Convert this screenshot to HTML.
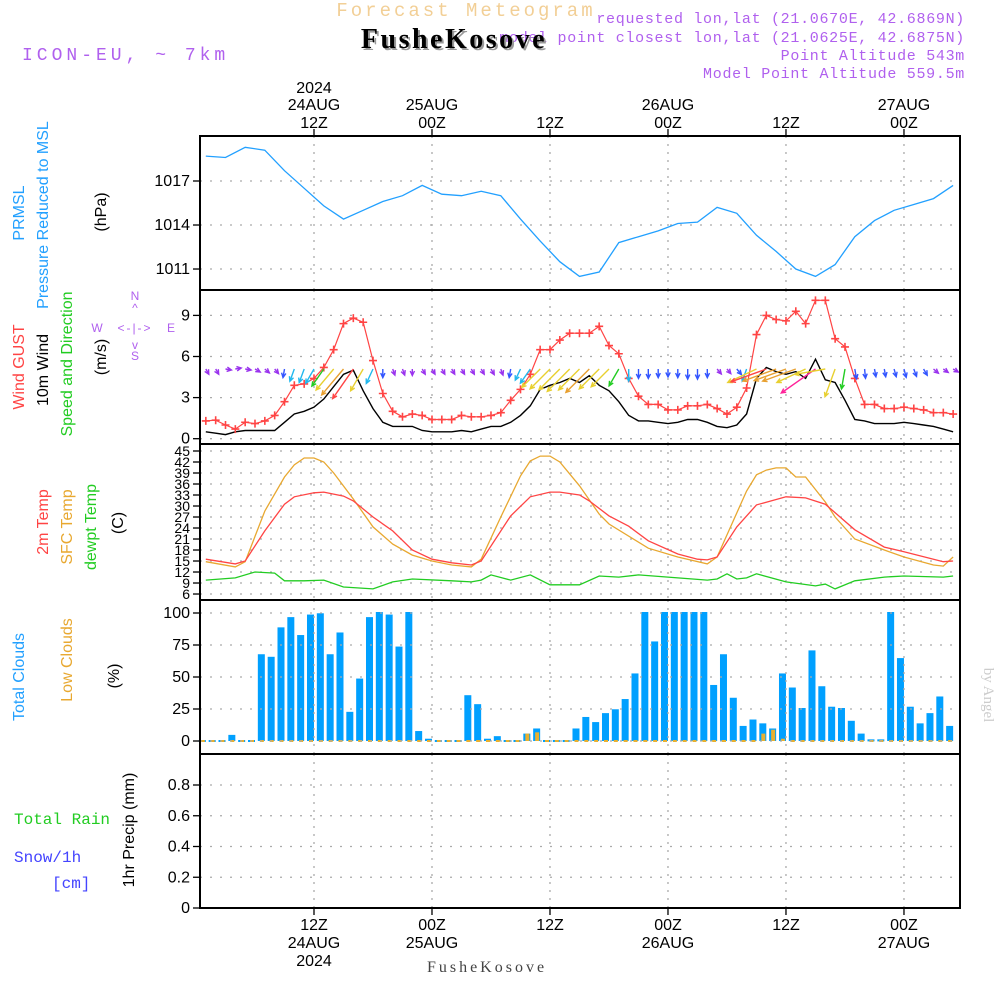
<!DOCTYPE html>
<html><head><meta charset="utf-8"><style>
body{margin:0;background:#fff;}
svg{display:block;font-family:"Liberation Sans",sans-serif;}
</style></head><body>
<svg id="chart" width="1000" height="1000" viewBox="0 0 1000 1000" xmlns="http://www.w3.org/2000/svg">
<rect width="1000" height="1000" fill="#fff"/>
<text x="466" y="16" text-anchor="middle" font-family="Liberation Mono" font-size="19" fill="#f2cf96" letter-spacing="3">Forecast Meteogram</text>
<text x="22" y="60" font-family="Liberation Mono" font-size="18" fill="#b060ee" letter-spacing="4">ICON-EU, ~ 7km</text>
<g font-family="Liberation Mono" font-size="15" fill="#b060ee" text-anchor="end" letter-spacing="0.7">
<text x="965" y="23">requested lon,lat (21.0670E, 42.6869N)</text>
<text x="965" y="42">model point closest lon,lat (21.0625E, 42.6875N)</text>
<text x="965" y="60">Point Altitude 543m</text>
<text x="965" y="78">Model Point Altitude 559.5m</text>
</g>
<text x="456" y="50" text-anchor="middle" font-family="Liberation Serif" font-weight="bold" font-size="28" fill="#999" letter-spacing="2.5">FusheKosove</text>
<text x="454" y="48" text-anchor="middle" font-family="Liberation Serif" font-weight="bold" font-size="28" fill="#000" letter-spacing="2.5">FusheKosove</text>
<text x="487" y="972" text-anchor="middle" font-family="Liberation Serif" font-size="16" fill="#444" letter-spacing="3">FusheKosove</text>
<text transform="translate(984,695) rotate(90)" text-anchor="middle" font-family="Liberation Serif" font-size="15" fill="#ccc">by Angel</text>
<g id="labels" font-size="15"></g>
<g id="plots"></g>
</svg>
<script>
// ---------- DATA ----------
const pressHours=[1,3,5,7,9,11,13,15,17,19,21,23,25,27,29,31,33,35,37,39,41,43,45,47,49,51,53,55,57,59,61,63,65,67,69,71,73,75,77];
const pressVals=[1018.7,1018.6,1019.3,1019.1,1017.7,1016.5,1015.3,1014.4,1015.0,1015.6,1016.0,1016.7,1016.1,1016.0,1016.3,1016.0,1014.4,1012.9,1011.5,1010.5,1010.8,1012.8,1013.2,1013.6,1014.1,1014.2,1015.2,1014.8,1013.3,1012.2,1011.0,1010.5,1011.3,1013.2,1014.3,1015.0,1015.4,1015.8,1016.7];
const gustVals=[1.3,1.35,1.0,0.7,1.2,1.1,1.3,1.7,2.7,3.9,4.0,4.4,5.2,6.5,8.4,8.8,8.5,5.7,3.3,2.0,1.6,1.8,1.7,1.4,1.4,1.4,1.7,1.6,1.6,1.7,1.9,2.8,3.6,4.7,6.5,6.5,7.2,7.7,7.7,7.7,8.2,6.8,6.2,4.4,3.1,2.5,2.5,2.1,2.1,2.4,2.4,2.5,2.2,1.8,2.3,3.7,7.6,9.0,8.7,8.6,9.3,8.4,10.1,10.1,7.3,6.7,4.4,2.5,2.5,2.2,2.2,2.3,2.2,2.1,1.9,1.9,1.8];
const windVals=[0.5,0.4,0.3,0.5,0.6,0.6,0.6,0.6,1.2,1.8,2.0,2.3,2.9,3.8,4.7,5.0,3.5,2.2,1.2,0.9,0.9,0.9,0.6,0.5,0.5,0.5,0.6,0.5,0.7,0.9,0.9,1.2,1.7,2.4,3.6,3.9,4.1,4.4,4.1,4.6,3.9,3.5,2.7,1.7,1.3,1.3,1.2,1.1,1.2,1.4,1.4,1.2,0.9,0.8,1.0,1.8,4.4,5.2,4.9,4.7,4.9,4.4,5.8,4.3,4.1,2.8,1.4,1.3,1.1,1.1,1.1,1.2,1.1,1.0,0.9,0.7,0.5];
const windDir=[150,150,100,80,100,120,130,140,190,200,200,210,215,220,220,215,210,205,180,160,160,180,150,150,150,150,150,150,150,150,160,190,205,215,225,225,225,225,225,225,225,225,210,180,180,180,180,180,180,180,180,180,140,140,140,200,245,250,250,250,250,245,235,260,200,190,170,175,170,170,165,165,160,150,130,125,120];
const t2Hours=[1,4,5,7,9,10,12,13,15,16,18,20,22,24,26,28,29,32,34,36,37,39,40,42,44,46,49,51,52,53,55,57,60,62,64,67,70,72,76,77];
const t2Vals=[15.5,14.2,15.0,23.2,30.5,32.5,33.6,33.8,32.7,31.4,27,23.2,18,15.5,14.5,13.9,15.0,27.3,32.5,33.8,33.8,33,31.4,27.3,24.5,20.5,16.9,15.5,15.3,16.1,24.3,30.3,32.5,32.2,30.5,23.5,18.8,17.5,14.8,15];
const sfcHours=[1,4,5,7,9,10,11,12,13,14,16,18,20,22,24,26,28,29,31,33,34,35,36,37,39,41,42,46,49,52,53,56,57,58,59,60,61,62,64,65,67,70,72,75,76,77];
const sfcVals=[14.8,13.4,14.8,28.6,37.9,41.2,43.1,43.1,42,39,31.9,24.3,19.6,16.6,15,13.9,13.4,15.5,27,38.2,42.3,43.6,43.6,42,35.5,27.8,25.1,18.5,16.1,14.2,16.1,34.1,38.5,39.8,40.4,40.4,37.9,37.9,31.1,27,21,18,16.1,13.9,13.6,16.1];
const dewHours=[1,4,6,8,9,11,13,15,18,20,22,26,28,29,30,32,34,36,39,41,43,45,48,52,53,54,55,56,57,60,63,64,65,67,70,72,76,77];
const dewVals=[9.8,10.4,12.0,11.7,9.6,9.6,9.8,7.9,7.4,9.3,10.1,9.6,9.3,9.8,11.2,9.8,11.2,8.5,8.5,10.9,10.6,11.2,10.6,9.8,10.1,11.5,10.1,10.4,11.5,9.3,8.2,8.7,7.4,9.6,10.6,10.9,10.6,10.9];
const totalClouds=[0,0,0,4,0,0,67,65,88,96,82,98,99,67,84,22,48,96,100,98,73,100,7,1,0,0,0,35,28,1,3,0,0,5,9,0,0,0,9,18,14,21,24,32,52,100,77,100,100,100,100,100,43,67,33,11,16,13,9,52,41,25,70,42,26,25,15,5,0.5,0.5,100,64,26,13,21,34,11];
const lowClouds=[0,0,0,0,0,0,0,0,0,0,0,0,0,0,0,0,0,0,0,0,0,0,0,0,0,0,0,0,0,0,0,0,0,5,6,0,0,0,0,0,0,0,0,0,0,0,0,0,0,0,0,0,0,0,0,0,0,5,8,1,0,0,0,0,0,0,0,0,0,0,0,0,0,0,0,0,0];
const precipVals=new Array(77).fill(0);
const pressTicks=[1017,1014,1011];
const windTicks=[9,6,3,0];
const tempTicks=[45,42,39,36,33,30,27,24,21,18,15,12,9,6];
const cloudTicks=[100,75,50,25,0];
const precipTicks=[0.8,0.6,0.4,0.2,0];
const precipTickLabels=["0.8","0.6","0.4","0.2","0"];
const timeTicks=[12,24,36,48,60,72];
const topLabels=[["2024","24AUG","12Z"],["","25AUG","00Z"],["","","12Z"],["","26AUG","00Z"],["","","12Z"],["","27AUG","00Z"]];
const botLabels=[["12Z","24AUG","2024"],["00Z","25AUG",""],["12Z","",""],["00Z","26AUG",""],["12Z","",""],["00Z","27AUG",""]];

// ---------- AXES ----------
const NS="http://www.w3.org/2000/svg";
const L=200,R=960;
const xH=h=>196+h*9.833;
const yP=p=>181+(1017-p)*14.67;
const yW=v=>438.7-v*13.7;
const yT=t=>451+(45-t)*3.667;
const yC=c=>741-c*1.28;
const yR=r=>908-r*153.75;
const panels=[[136,290],[290,444],[444,600],[600,754],[754,908]];
const plots=document.getElementById('plots');
const labs=document.getElementById('labels');
function mk(tag,attrs,parent){const e=document.createElementNS(NS,tag);for(const k in attrs)e.setAttribute(k,attrs[k]);(parent||plots).appendChild(e);return e;}
function txt(x,y,s,attrs,parent){const e=mk('text',Object.assign({x:x,y:y},attrs||{}),parent||labs);e.textContent=s;return e;}
function hgrid(ys){ys.forEach(y=>{const l=mk('line',{x1:L,x2:R,y1:y,y2:y,stroke:'#aaa','stroke-width':1.3,'stroke-dasharray':'2,8'});});}
function vgrid(t,b){timeTicks.forEach(h=>{const l=mk('line',{x1:xH(h),x2:xH(h),y1:t,y2:b,stroke:'#aaa','stroke-width':1.3,'stroke-dasharray':'2,6'});});}
function ticklabels(vals,fy,fmt,size){vals.forEach((v,i)=>{const t=txt(190,fy(v)+5,fmt?fmt[i]:String(v),{'text-anchor':'end','font-size':size||16,fill:'#000'});mk('line',{x1:193,x2:200,y1:fy(v),y2:fy(v),stroke:'#000','stroke-width':1.3});});}
function line(hs,vs,fy,color,w,name){const d=hs.map((h,i)=>(i?'L':'M')+xH(h).toFixed(1)+','+fy(vs[i]).toFixed(1)).join('');const p=mk('path',{d:d,fill:'none',stroke:color,'stroke-width':w||1.3});return p;}
const hoursAll=totalClouds.map((_,i)=>i+1);

// Panel 1 pressure
hgrid(pressTicks.map(yP));vgrid(136,290);ticklabels(pressTicks,yP);
line(pressHours,pressVals,yP,'#22a0ff',1.3,'pressure-line');
// Panel 2 wind
hgrid(windTicks.map(yW));vgrid(290,444);ticklabels(windTicks,yW);
line(hoursAll,windVals,yW,'#000',1.4,'wind-speed-line');
line(hoursAll,gustVals,yW,'#ff4444',1.2,'gust-line');
gustVals.forEach((v,i)=>{const x=xH(i+1),y=yW(v);const g=mk('path',{d:`M${x-4},${y}h8M${x},${y-4}v8`,stroke:'#ff4444','stroke-width':1.6});});
function wcol(s){return s<1?'#9a33ee':s<1.5?'#3355ff':s<2.5?'#22b8ee':s<3.2?'#22cc22':s<4.5?'#e8d030':s<5?'#e8a030':s<5.5?'#ff4444':'#ff2299';}
windVals.forEach((s,i)=>{const x0=xH(i+1),y0=369;const a=windDir[i]*Math.PI/180;const len=Math.max(6,s*7.2);const dx=Math.sin(a),dy=-Math.cos(a);const x1=x0+dx*len,y1=y0+dy*len;const hl=5;const bx=-dx,by=-dy;const c=Math.cos(0.45),sn=Math.sin(0.45);
const h1x=x1+hl*(bx*c-by*sn),h1y=y1+hl*(bx*sn+by*c),h2x=x1+hl*(bx*c+by*sn),h2y=y1+hl*(-bx*sn+by*c);
const p=mk('path',{d:`M${x0.toFixed(1)},${y0}L${x1.toFixed(1)},${y1.toFixed(1)}M${h1x.toFixed(1)},${h1y.toFixed(1)}L${x1.toFixed(1)},${y1.toFixed(1)}L${h2x.toFixed(1)},${h2y.toFixed(1)}`,fill:'none',stroke:wcol(s),'stroke-width':1.4});});
// Panel 3 temps
hgrid(tempTicks.map(yT));vgrid(444,600);ticklabels(tempTicks,yT,null,14);
line(sfcHours,sfcVals,yT,'#e8a830',1.3,'sfc-temp-line');
line(t2Hours,t2Vals,yT,'#ff4444',1.3,'t2m-line');
line(dewHours,dewVals,yT,'#22cc22',1.3,'dewpoint-line');
// Panel 4 clouds
totalClouds.forEach((c,i)=>{const x=xH(i+1);const r=mk('rect',{x:x-7,y:yC(c)-1,width:7,height:Math.max(1,741-yC(c))+1,fill:'#00a0ff'});});
lowClouds.forEach((c,i)=>{const x=xH(i+1);const r=mk('rect',{x:x-5,y:yC(c)-1,width:4,height:Math.max(1,741-yC(c))+1,fill:'#e8b030'});});
hgrid(cloudTicks.map(yC));vgrid(600,754);ticklabels(cloudTicks,yC);
// Panel 5 precip
hgrid(precipTicks.map(yR));vgrid(754,908);ticklabels(precipTicks,yR,precipTickLabels);
{const d='M200,'+yR(precipVals[0]).toFixed(1)+hoursAll.map((h,i)=>'L'+xH(h).toFixed(1)+','+yR(precipVals[i]).toFixed(1)).join('');const p=mk('path',{d:d,fill:'none',stroke:'#000','stroke-width':1.5,'stroke-dasharray':'6,3'});}
// frames
panels.forEach(([t,b])=>{const r=mk('rect',{x:L,y:t,width:R-L,height:b-t,fill:'none',stroke:'#000','stroke-width':2});});
// time ticks & labels
timeTicks.forEach((h,i)=>{const x=xH(h);mk('line',{x1:x,x2:x,y1:129,y2:136,stroke:'#000','stroke-width':1.3});mk('line',{x1:x,x2:x,y1:908,y2:915,stroke:'#000','stroke-width':1.3});
topLabels[i].forEach((s,j)=>{if(s){const t=txt(x,[93,110,128][j],s,{'text-anchor':'middle','font-size':16});}});
botLabels[i].forEach((s,j)=>{if(s){const t=txt(x,[930,948,966][j],s,{'text-anchor':'middle','font-size':16});}});});
// left rotated labels
function rlab(x,y,s,color,name,size){const t=txt(0,0,s,{transform:`translate(${x},${y}) rotate(-90)`,'text-anchor':'middle',fill:color,'font-size':size||16});}
rlab(24,213,'PRMSL','#22a0ff','prmsl-label');
rlab(48,215,'Pressure Reduced to MSL','#22a0ff','pressure-label');
rlab(106,212,'(hPa)','#000','pressure-unit');
rlab(24,367,'Wind GUST','#ff4444','gust-label');
rlab(48,370,'10m Wind','#000','wind-label');
rlab(72,364,'Speed and Direction','#22cc22','direction-label');
rlab(106,357,'(m/s)','#000','wind-unit');
rlab(48,522,'2m Temp','#ff4444','t2m-label');
rlab(72,527,'SFC Temp','#e8a830','sfc-temp-label');
rlab(96,527,'dewpt Temp','#22cc22','dewpoint-label');
rlab(123,523,'(C)','#000','temp-unit');
rlab(24,677,'Total Clouds','#22a0ff','total-cloud-label');
rlab(72,660,'Low Clouds','#e8a830','low-cloud-label');
rlab(119,676,'(%)','#000','cloud-unit');
rlab(134,830,'1hr Precip (mm)','#000','precip-unit');
{const g=document.createElementNS(NS,'g');labs.appendChild(g);
[[135,300,'N'],[97,332,'W'],[171,332,'E'],[135,360,'S'],[135,312,'^'],[135,349,'v'],[135,332,'<-|->']].forEach(a=>txt(a[0],a[1],a[2],{'text-anchor':'middle','font-size':12,fill:'#b060ee','letter-spacing':a[2].length>1?2:0},g));}
{const t=txt(14,824,'Total  Rain',{'font-size':16,fill:'#22cc22','font-family':'Liberation Mono'});
const t2=txt(14,862,'Snow/1h',{'font-size':16,fill:'#4444ff','font-family':'Liberation Mono'});
const t3=txt(52,888,'[cm]',{'font-size':16,fill:'#4444ff','font-family':'Liberation Mono'});}
</script>
</body></html>
